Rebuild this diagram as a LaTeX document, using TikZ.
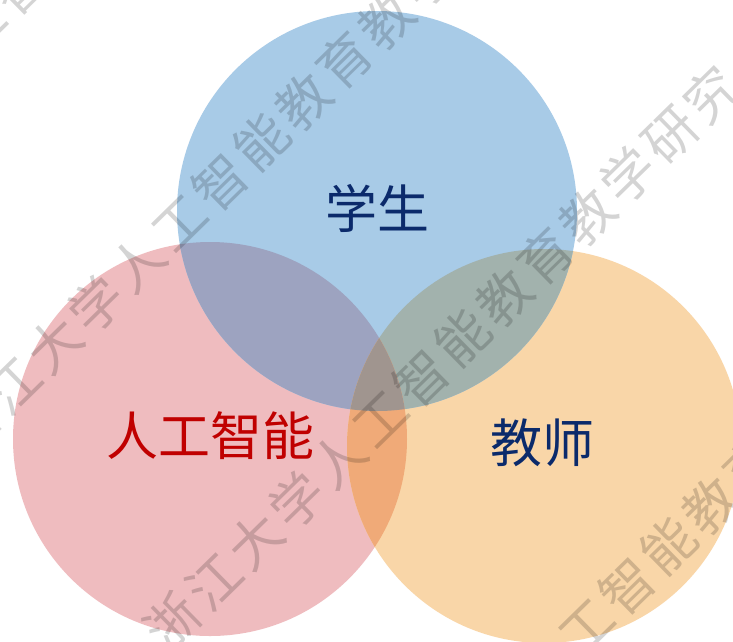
\documentclass[tikz,border=0pt]{standalone}
\usepackage{fontspec}
\newfontfamily\cjk{Noto Sans CJK SC}
\definecolor{pinkc}{HTML}{EFBCBF}
\definecolor{orangec}{HTML}{F9D6A8}
\definecolor{bluec}{HTML}{A8CBE7}
\definecolor{pbc}{HTML}{9DA3C0}
\definecolor{boc}{HTML}{A2B2AD}
\definecolor{poc}{HTML}{F0AA78}
\definecolor{allc}{HTML}{A0958F}
\definecolor{navyc}{HTML}{0B2A6B}
\definecolor{redc}{HTML}{C00000}
\newcommand{\wg}{\hspace{5pt}}
\newcommand{\wmtext}{浙\wg 江\wg 大\wg 学\wg 人\wg 工\wg 智\wg 能\wg 教\wg 育\wg 教\wg 学\wg 研\wg 究}
\begin{document}
\begin{tikzpicture}[x=1pt,y=-1pt,
  lbl/.style={font=\cjk\fontsize{52}{60}\selectfont, inner sep=0pt},
  wm/.style={font=\cjk\fontsize{53}{60}\selectfont, text=black, text opacity=0.17, rotate=44.4, inner sep=0pt}]
\clip (0,0) rectangle (733,641);
\fill[white] (0,0) rectangle (733,641);
\coordinate (cB) at (377,211);
\coordinate (cP) at (210,439);
\coordinate (cO) at (544,446);
\def\rB{200}
\def\rP{197}
\def\rO{197}
% single circles
\fill[pinkc] (cP) circle[radius=\rP];
\fill[orangec] (cO) circle[radius=\rO];
\fill[bluec] (cB) circle[radius=\rB];
% pairwise overlaps
\begin{scope}
  \clip (cP) circle[radius=\rP];
  \fill[pbc] (cB) circle[radius=\rB];
\end{scope}
\begin{scope}
  \clip (cO) circle[radius=\rO];
  \fill[boc] (cB) circle[radius=\rB];
\end{scope}
\begin{scope}
  \clip (cP) circle[radius=\rP];
  \fill[poc] (cO) circle[radius=\rO];
\end{scope}
% triple overlap
\begin{scope}
  \clip (cP) circle[radius=\rP];
  \clip (cO) circle[radius=\rO];
  \fill[allc] (cB) circle[radius=\rB];
\end{scope}
% labels
\node[lbl, text=navyc] (student) at (377,208) {学生};
\node[lbl, text=redc] (ai) at (210,436) {人工智能};
\node[lbl, text=navyc] (teacher) at (542,443) {教师};
% watermark
\node[wm] (wm0) at (40,-34) {\wmtext};
\node[wm] (wm1) at (241,162) {\wmtext};
\node[wm] (wm2) at (442,358) {\wmtext};
\node[wm] (wm3) at (648,566) {\wmtext};
\end{tikzpicture}
\end{document}
